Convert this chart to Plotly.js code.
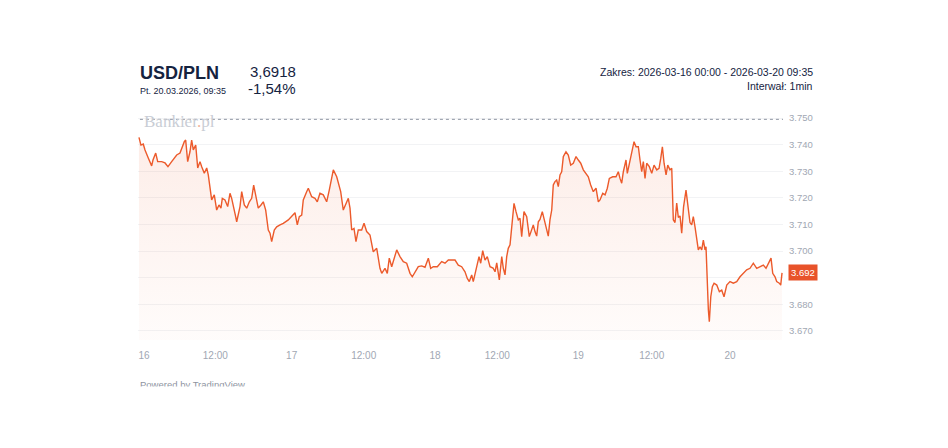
<!DOCTYPE html>
<html>
<head>
<meta charset="utf-8">
<script src="https://cdn.plot.ly/plotly-3.0.1.min.js"></script>
<style>
  html, body { margin: 0; padding: 0; background: #ffffff; }
  #chart { width: 948px; height: 448px; }
</style>
</head>
<body>
<div id="chart"></div>
<script>
// Position of each sample along TradingView's bar-index time scale (hours from 16.03 00:00)
const barPos = [
  -0.83, -0.50, -0.12, 0.17, 0.71, 1.27, 1.49, 1.94, 2.27, 2.93, 3.48, 3.97, 4.58, 5.41, 5.96, 6.24, 6.67, 6.90, 7.23, 7.61,
  7.89, 8.16, 8.56, 8.89, 9.27, 9.55, 9.98, 10.38, 10.64, 11.20, 11.63, 12.03, 12.41, 12.74, 12.96, 13.40, 13.85, 14.23, 14.51, 15.17,
  15.34, 15.89, 16.17, 16.60, 17.00, 17.43, 17.82, 18.15, 18.48, 18.91, 19.36, 19.74, 20.14, 20.57, 20.85, 21.13, 21.56, 21.96, 22.51, 23.05,
  23.88, 24.71, 24.99, 25.37, 25.70, 26.10, 26.36, 26.92, 27.19, 27.75, 28.30, 28.68, 29.12, 29.67, 30.23, 30.66, 31.06, 31.33, 31.89, 32.32,
  32.55, 32.98, 33.43, 33.81, 34.09, 34.37, 34.75, 35.08, 35.46, 36.02, 36.41, 36.85, 37.40, 37.94, 38.51, 39.05, 39.34, 39.88, 40.26, 40.59,
  40.99, 41.37, 41.82, 42.36, 42.91, 43.47, 44.02, 44.40, 44.85, 45.39, 45.95, 46.50, 47.05, 47.44, 47.87, 48.54, 49.26, 49.81, 50.36, 50.92,
  51.47, 52.01, 52.57, 53.12, 53.50, 53.83, 54.23, 54.49, 55.06, 55.44, 55.72, 56.05, 56.43, 56.81, 57.26, 57.76, 58.09, 58.37, 58.80, 59.20,
  59.46, 59.74, 60.02, 60.28, 60.57, 60.85, 61.23, 61.56, 61.94, 62.22, 62.50, 62.88, 63.33, 63.76, 64.16, 64.42, 64.70, 64.98, 65.25, 65.53,
  65.91, 66.24, 66.64, 66.90, 67.18, 67.47, 67.73, 68.01, 68.29, 68.56, 68.84, 69.12, 69.39, 69.83, 70.21, 70.61, 71.04, 71.49, 71.87, 72.27,
  72.70, 73.14, 73.52, 73.92, 74.35, 74.80, 75.18, 75.46, 75.91, 76.29, 76.67, 77.00, 77.56, 78.11, 78.49, 78.77, 79.05, 79.32, 79.76, 79.98,
  80.31, 80.71, 81.09, 81.42, 81.80, 82.08, 82.36, 82.63, 82.91, 83.19, 83.62, 84.02, 84.40, 84.85, 85.23, 85.51, 85.78, 86.06, 86.39, 86.67,
  87.04, 87.33, 87.59, 87.87, 88.15, 88.42, 88.70, 88.98, 89.28, 89.69, 90.07, 90.35, 90.63, 90.90, 91.18, 91.46, 91.73, 92.01, 92.29, 92.56,
  92.84, 93.00, 93.22, 93.39, 93.55, 93.79, 94.05, 94.33, 94.78, 95.21, 95.60, 95.98, 96.43, 96.97, 97.52, 98.08, 98.63, 99.17, 99.73, 100.28,
  100.83, 101.39, 101.94, 102.48, 102.93, 103.31, 103.76, 104.04, 104.42, 104.70, 105.13, 105.36, 105.58
];
const rates = [
  3.7427, 3.7398, 3.7402, 3.7380, 3.7350, 3.7320, 3.7342, 3.7368, 3.7336, 3.7336, 3.7331, 3.7317, 3.7336, 3.7361, 3.7368, 3.7387, 3.7411, 3.7417, 3.7336, 3.7373,
  3.7417, 3.7380, 3.7398, 3.7312, 3.7336, 3.7317, 3.7292, 3.7312, 3.7286, 3.7192, 3.7211, 3.7154, 3.7173, 3.7161, 3.7198, 3.7192, 3.7167, 3.7217, 3.7198, 3.7129,
  3.7110, 3.7167, 3.7223, 3.7173, 3.7161, 3.7185, 3.7198, 3.7248, 3.7204, 3.7161, 3.7173, 3.7185, 3.7154, 3.7079, 3.7067, 3.7035, 3.7079, 3.7091, 3.7098, 3.7104,
  3.7117, 3.7135, 3.7144, 3.7098, 3.7129, 3.7135, 3.7192, 3.7223, 3.7236, 3.7204, 3.7198, 3.7185, 3.7217, 3.7211, 3.7185, 3.7229, 3.7279, 3.7305, 3.7279, 3.7242,
  3.7223, 3.7154, 3.7179, 3.7198, 3.7161, 3.7079, 3.7085, 3.7035, 3.7079, 3.7079, 3.7104, 3.7073, 3.7060, 3.6997, 3.7010, 3.6935, 3.6916, 3.6935, 3.6916, 3.6973,
  3.6941, 3.6966, 3.7004, 3.6979, 3.6960, 3.6954, 3.6916, 3.6903, 3.6922, 3.6941, 3.6944, 3.6939, 3.6973, 3.6935, 3.6941, 3.6941, 3.6960, 3.6954, 3.6966, 3.6966,
  3.6966, 3.6947, 3.6941, 3.6922, 3.6897, 3.6885, 3.6910, 3.6885, 3.6941, 3.6979, 3.6954, 3.7001, 3.6966, 3.6979, 3.6941, 3.6936, 3.6922, 3.6955, 3.6891, 3.6979,
  3.6935, 3.6910, 3.6979, 3.7010, 3.7023, 3.7091, 3.7179, 3.7148, 3.7117, 3.7123, 3.7054, 3.7148, 3.7129, 3.7054, 3.7079, 3.7098, 3.7073, 3.7056, 3.7110, 3.7119,
  3.7148, 3.7117, 3.7091, 3.7056, 3.7117, 3.7154, 3.7248, 3.7261, 3.7267, 3.7242, 3.7286, 3.7298, 3.7355, 3.7373, 3.7361, 3.7323, 3.7330, 3.7355, 3.7342, 3.7330,
  3.7305, 3.7292, 3.7279, 3.7248, 3.7223, 3.7236, 3.7185, 3.7192, 3.7217, 3.7211, 3.7236, 3.7273, 3.7279, 3.7279, 3.7298, 3.7273, 3.7255, 3.7298, 3.7342, 3.7292,
  3.7330, 3.7373, 3.7411, 3.7392, 3.7392, 3.7342, 3.7298, 3.7336, 3.7273, 3.7330, 3.7317, 3.7292, 3.7323, 3.7305, 3.7311, 3.7348, 3.7392, 3.7330, 3.7286, 3.7323,
  3.7305, 3.7311, 3.7117, 3.7107, 3.7180, 3.7126, 3.7132, 3.7067, 3.7165, 3.7229, 3.7150, 3.7107, 3.7098, 3.7129, 3.7091, 3.7041, 3.7004, 3.7016, 3.7004, 3.7041,
  3.7004, 3.7016, 3.6828, 3.6778, 3.6734, 3.6828, 3.6866, 3.6879, 3.6872, 3.6847, 3.6853, 3.6828, 3.6872, 3.6885, 3.6879, 3.6885, 3.6903, 3.6916, 3.6929, 3.6935,
  3.6954, 3.6935, 3.6941, 3.6947, 3.6935, 3.6954, 3.6973, 3.6916, 3.6903, 3.6885, 3.6879, 3.6872, 3.6918
];
const tickPos = [0, 11.80, 24.44, 36.36, 48.16, 58.46, 71.87, 84.01, 96.97];
const tickLabels = ['16', '12:00', '17', '12:00', '18', '12:00', '19', '12:00', '20'];
const yTicks = [3.670, 3.680, 3.690, 3.700, 3.710, 3.720, 3.730, 3.740, 3.750];
// 3.690 label is hidden behind the last-price badge in the reference
const yTickLabels = ['3.670', '3.680', '', '3.700', '3.710', '3.720', '3.730', '3.740', '3.750'];
const prevClose = 3.7495;
const lastRate = 3.6918;
const pair = 'USD/PLN';
const stamp = 'Pt. 20.03.2026, 09:35';
const lastText = '3,6918';
const changeText = '-1,54%';
const rangeText = 'Zakres: 2026-03-16 00:00 - 2026-03-20 09:35';
const intervalText = 'Interwał: 1min';

const LINE = '#ec5a2b';
const DARK = '#15233f';
const GREY = '#a1a7b3';
const FONT = 'Liberation Sans, Arial, sans-serif';

const trace = {
  x: barPos,
  y: rates,
  type: 'scatter',
  mode: 'lines',
  line: { color: LINE, width: 1.4 },
  fill: 'tozeroy',
  fillgradient: {
    type: 'vertical',
    start: 3.6665,
    stop: 3.744,
    colorscale: [[0, 'rgba(236,90,43,0.02)'], [1, 'rgba(236,90,43,0.11)']]
  },
  hoverinfo: 'skip'
};

const layout = {
  width: 948,
  height: 448,
  margin: { l: 138, r: 165, t: 108, b: 108 },
  paper_bgcolor: '#ffffff',
  plot_bgcolor: '#ffffff',
  showlegend: false,
  font: { family: FONT, color: GREY, size: 10 },
  xaxis: {
    type: 'linear',
    range: [-0.99, 105.74],
    tickmode: 'array',
    tickvals: tickPos,
    ticktext: tickLabels,
    showgrid: false,
    zeroline: false,
    showline: false,
    ticks: '',
    ticklabelstandoff: 8,
    tickfont: { family: FONT, size: 10, color: GREY },
    fixedrange: true
  },
  yaxis: {
    side: 'right',
    range: [3.66654, 3.75376],
    tickmode: 'array',
    tickvals: yTicks,
    ticktext: yTickLabels,
    showgrid: true,
    gridcolor: '#f2f3f5',
    gridwidth: 1,
    zeroline: false,
    showline: false,
    ticks: '',
    ticklabelstandoff: 5,
    tickfont: { family: FONT, size: 9.5, color: GREY },
    fixedrange: true
  },
  shapes: [
    {
      type: 'line', xref: 'paper', x0: 0.003, x1: 1, yref: 'y', y0: prevClose, y1: prevClose,
      line: { color: '#8f96a3', width: 1, dash: 'dot' }
    }
  ],
  annotations: [
    { text: 'Bankier<span style="color:#f2b49c">.</span>pl', xref: 'paper', yref: 'paper', x: 0.0075, y: 0.942,
      xanchor: 'left', yanchor: 'middle', showarrow: false, borderpad: 0,
      font: { family: 'Liberation Serif, Times New Roman, serif', size: 17, color: '#c9cdd5' } },
    { text: '<b>' + pair + '</b>', xref: 'paper', yref: 'paper', x: 0.0016, y: 1.153,
      xanchor: 'left', yanchor: 'middle', showarrow: false, borderpad: 0,
      font: { family: FONT, size: 18, color: DARK } },
    { text: stamp, xref: 'paper', yref: 'paper', x: 0.0016, y: 1.0754,
      xanchor: 'left', yanchor: 'middle', showarrow: false, borderpad: 0,
      font: { family: FONT, size: 9, color: DARK } },
    { text: lastText, xref: 'paper', yref: 'paper', x: 0.2465, y: 1.157,
      xanchor: 'right', yanchor: 'middle', showarrow: false, borderpad: 0,
      font: { family: FONT, size: 15, color: DARK } },
    { text: changeText, xref: 'paper', yref: 'paper', x: 0.2465, y: 1.086,
      xanchor: 'right', yanchor: 'middle', showarrow: false, borderpad: 0,
      font: { family: FONT, size: 15, color: DARK } },
    { text: rangeText, xref: 'paper', yref: 'paper', x: 1.048, y: 1.155,
      xanchor: 'right', yanchor: 'middle', showarrow: false, borderpad: 0,
      font: { family: FONT, size: 10.5, color: DARK } },
    { text: intervalText, xref: 'paper', yref: 'paper', x: 1.048, y: 1.0948,
      xanchor: 'right', yanchor: 'middle', showarrow: false, borderpad: 0,
      font: { family: FONT, size: 10.5, color: DARK } },
    { text: lastRate.toFixed(3), xref: 'paper', yref: 'y', x: 1.0078, y: lastRate,
      xanchor: 'left', yanchor: 'middle', showarrow: false, borderpad: 2,
      bgcolor: '#e8532a', font: { family: FONT, size: 9.5, color: '#ffffff' } },
    { text: 'Powered by TradingView', xref: 'paper', yref: 'paper', x: 0.0016, y: -0.19,
      xanchor: 'left', yanchor: 'middle', showarrow: false, borderpad: 0,
      font: { family: FONT, size: 9.5, color: '#8e949f' } },
    { text: ' ', xref: 'paper', yref: 'paper', x: -0.01, y: -0.2,
      xanchor: 'left', yanchor: 'top', showarrow: false, width: 140, height: 14,
      bgcolor: '#ffffff', borderpad: 0, font: { size: 8 } }
  ]
};

Plotly.newPlot('chart', [trace], layout, { displayModeBar: false, staticPlot: true });
</script>
</body>
</html>
